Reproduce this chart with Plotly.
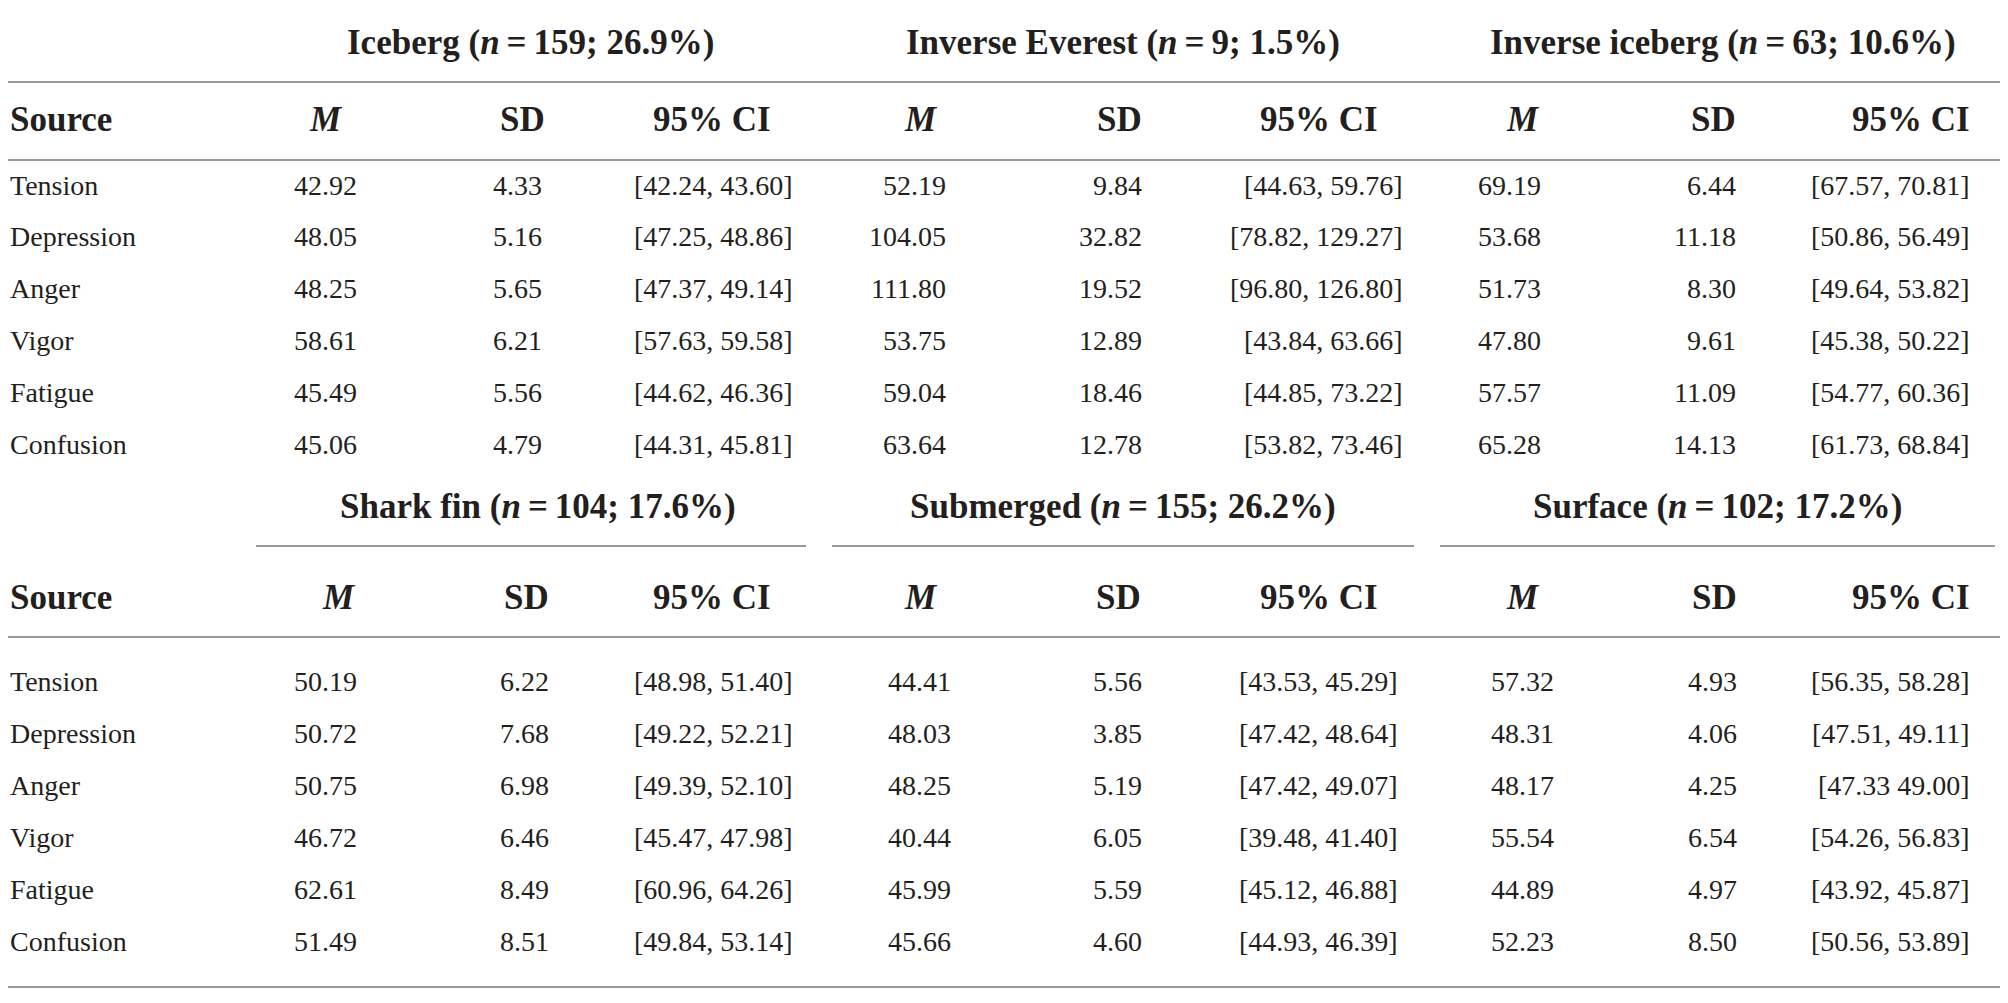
import plotly.graph_objects as go

# ---------------- data ----------------
sources = ["Tension", "Depression", "Anger", "Vigor", "Fatigue", "Confusion"]
profiles = ["Iceberg", "Inverse Everest", "Inverse iceberg", "Shark fin", "Submerged", "Surface"]
profile_n = [159, 9, 63, 104, 155, 102]
profile_pct = ["26.9%", "1.5%", "10.6%", "17.6%", "26.2%", "17.2%"]
col_headers = ["M", "SD", "95% CI"]

mean_iceberg = [42.92, 48.05, 48.25, 58.61, 45.49, 45.06]
sd_iceberg = [4.33, 5.16, 5.65, 6.21, 5.56, 4.79]
ci_iceberg = ["[42.24, 43.60]", "[47.25, 48.86]", "[47.37, 49.14]", "[57.63, 59.58]", "[44.62, 46.36]", "[44.31, 45.81]"]

mean_inv_everest = [52.19, 104.05, 111.80, 53.75, 59.04, 63.64]
sd_inv_everest = [9.84, 32.82, 19.52, 12.89, 18.46, 12.78]
ci_inv_everest = ["[44.63, 59.76]", "[78.82, 129.27]", "[96.80, 126.80]", "[43.84, 63.66]", "[44.85, 73.22]", "[53.82, 73.46]"]

mean_inv_iceberg = [69.19, 53.68, 51.73, 47.80, 57.57, 65.28]
sd_inv_iceberg = [6.44, 11.18, 8.30, 9.61, 11.09, 14.13]
ci_inv_iceberg = ["[67.57, 70.81]", "[50.86, 56.49]", "[49.64, 53.82]", "[45.38, 50.22]", "[54.77, 60.36]", "[61.73, 68.84]"]

mean_shark_fin = [50.19, 50.72, 50.75, 46.72, 62.61, 51.49]
sd_shark_fin = [6.22, 7.68, 6.98, 6.46, 8.49, 8.51]
ci_shark_fin = ["[48.98, 51.40]", "[49.22, 52.21]", "[49.39, 52.10]", "[45.47, 47.98]", "[60.96, 64.26]", "[49.84, 53.14]"]

mean_submerged = [44.41, 48.03, 48.25, 40.44, 45.99, 45.66]
sd_submerged = [5.56, 3.85, 5.19, 6.05, 5.59, 4.60]
ci_submerged = ["[43.53, 45.29]", "[47.42, 48.64]", "[47.42, 49.07]", "[39.48, 41.40]", "[45.12, 46.88]", "[44.93, 46.39]"]

mean_surface = [57.32, 48.31, 48.17, 55.54, 44.89, 52.23]
sd_surface = [4.93, 4.06, 4.25, 6.54, 4.97, 8.50]
ci_surface = ["[56.35, 58.28]", "[47.51, 49.11]", "[47.33 49.00]", "[54.26, 56.83]", "[43.92, 45.87]", "[50.56, 53.89]"]

means = [mean_iceberg, mean_inv_everest, mean_inv_iceberg, mean_shark_fin, mean_submerged, mean_surface]
sds = [sd_iceberg, sd_inv_everest, sd_inv_iceberg, sd_shark_fin, sd_submerged, sd_surface]
cis = [ci_iceberg, ci_inv_everest, ci_inv_iceberg, ci_shark_fin, ci_submerged, ci_surface]

# ---------------- layout (page-pixel axis units) ----------------
PAGE_W, PAGE_H = 2008, 1003
OFF = 8  # default page body margin
FONT = "Liberation Serif"
INK = "#231f20"
RULE = "#999999"
BODY = 28
HEAD = 35
LEFT = OFF + 1

sections = [
    dict(title_y=42, header_y=119, row0=185, step=51.8,
         title_x=[530, 1123, 1723],
         mh_x=[326, 921, 1523], mv_x=[358, 947, 1542],
         sdh_x=[546, 1143, 1737], sdv_x=[543, 1143, 1737],
         cih_x=[772, 1379, 1971], civ_x=[794, 1404, 1971]),
    dict(title_y=506, header_y=597, row0=681, step=52,
         title_x=[538, 1123, 1717],
         mh_x=[339, 921, 1523], mv_x=[358, 952, 1555],
         sdh_x=[550, 1142, 1738], sdv_x=[550, 1143, 1738],
         cih_x=[772, 1379, 1971], civ_x=[794, 1399, 1971]),
]

fig = go.Figure()
# invisible trace to anchor the axes
fig.add_trace(go.Scatter(x=[OFF, PAGE_W], y=[OFF, PAGE_H], mode="markers",
                         marker=dict(opacity=0), hoverinfo="skip", showlegend=False))

ann = []


def txt(x, y, s, size, anchor, bold=False):
    if bold:
        s = "<b>" + s + "</b>"
    ann.append(dict(x=x, y=y, xref="x", yref="y", text=s, showarrow=False,
                    xanchor=anchor, yanchor="middle", borderpad=0,
                    font=dict(family=FONT, size=size, color=INK)))


for si, sec in enumerate(sections):
    txt(LEFT, sec["header_y"], "Source", HEAD, "left", bold=True)
    for r, src in enumerate(sources):
        txt(LEFT, sec["row0"] + r * sec["step"], src, BODY, "left")
    for b in range(3):
        p = si * 3 + b
        title = f"{profiles[p]} (<i>n</i>\u2009=\u2009{profile_n[p]}; {profile_pct[p]})"
        txt(sec["title_x"][b], sec["title_y"], title, HEAD, "center", bold=True)
        txt(sec["mh_x"][b], sec["header_y"], "<i>" + col_headers[0] + "</i>", HEAD, "center", bold=True)
        txt(sec["sdh_x"][b], sec["header_y"], col_headers[1], HEAD, "right", bold=True)
        txt(sec["cih_x"][b], sec["header_y"], col_headers[2], HEAD, "right", bold=True)
        for r in range(len(sources)):
            y = sec["row0"] + r * sec["step"]
            txt(sec["mv_x"][b], y, f"{means[p][r]:.2f}", BODY, "right")
            txt(sec["sdv_x"][b], y, f"{sds[p][r]:.2f}", BODY, "right")
            txt(sec["civ_x"][b], y, cis[p][r], BODY, "right")

shapes = []


def hline(y, x0=OFF, x1=PAGE_W, w=2.2):
    shapes.append(dict(type="line", xref="x", yref="y", x0=x0, x1=x1, y0=y, y1=y,
                       line=dict(color=RULE, width=w)))


hline(82)
hline(160)
for x0, x1 in [(256, 806), (832, 1414), (1440, 1995)]:
    hline(546, x0, x1, 1.8)
hline(637)
hline(987)

fig.update_layout(
    width=PAGE_W - OFF, height=PAGE_H - OFF,
    margin=dict(l=0, r=0, t=0, b=0),
    paper_bgcolor="white", plot_bgcolor="white",
    xaxis=dict(range=[OFF, PAGE_W], visible=False, fixedrange=True),
    yaxis=dict(range=[PAGE_H, OFF], visible=False, fixedrange=True),
    annotations=ann, shapes=shapes, showlegend=False,
)

fig.write_html("out.html")
